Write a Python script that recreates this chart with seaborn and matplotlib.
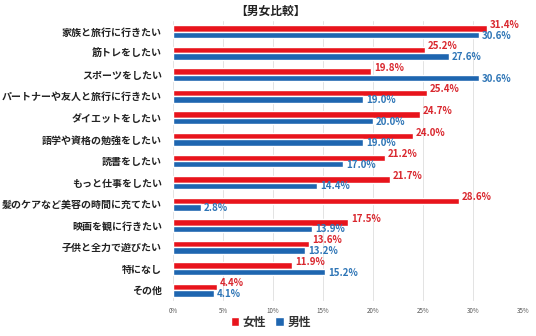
import matplotlib
matplotlib.use("Agg")
import matplotlib.pyplot as plt
import seaborn as sns
import pandas as pd
from matplotlib.patches import Patch

categories = [
    "家族と旅行に行きたい", "筋トレをしたい", "スポーツをしたい",
    "パートナーや友人と旅行に行きたい", "ダイエットをしたい",
    "語学や資格の勉強をしたい", "読書をしたい", "もっと仕事をしたい",
    "髪のケアなど美容の時間に充てたい", "映画を観に行きたい",
    "子供と全力で遊びたい", "特になし", "その他",
]
female = [31.4, 25.2, 19.8, 25.4, 24.7, 24.0, 21.2, 21.7, 28.6, 17.5, 13.6, 11.9, 4.4]
male = [30.6, 27.6, 30.6, 19.0, 20.0, 19.0, 17.0, 14.4, 2.8, 13.9, 13.2, 15.2, 4.1]
series = ["女性", "男性"]
x_ticks = [0, 5, 10, 15, 20, 25, 30, 35]

bar_colors = {"女性": "#E8141C", "男性": "#1E66B0"}
text_colors = {"女性": "#D9272E", "男性": "#2E75B6"}

df = pd.DataFrame({
    "項目": categories * 2,
    "割合": female + male,
    "性別": [series[0]] * len(categories) + [series[1]] * len(categories),
})

sns.set_theme(style="white")
plt.rcParams["font.family"] = ["Noto Sans CJK JP", "DejaVu Sans"]

fig = plt.figure(figsize=(5.36, 3.36), dpi=100)
ax = fig.add_axes([173 / 536, 1 - 301 / 336, 350 / 536, 280 / 336])

sns.barplot(data=df, y="項目", x="割合", hue="性別", order=categories,
            hue_order=series, palette=bar_colors, orient="h", width=0.6,
            saturation=1, legend=False, ax=ax)

ax.set_xlim(0, 35)
ax.set_xticks(x_ticks)
ax.set_xticklabels([f"{t}%" for t in x_ticks], fontsize=4.5, color="#555555")
ax.tick_params(axis="x", length=0, pad=4)
ax.tick_params(axis="y", length=0, pad=8)
for lbl in ax.get_yticklabels():
    lbl.set_fontsize(7.2)
    lbl.set_fontweight("bold")
    lbl.set_color("#222222")
ax.set_xlabel("")
ax.set_ylabel("")
ax.grid(axis="x", color="#E3E3E3", linewidth=0.7)
ax.set_axisbelow(True)
for s in ax.spines.values():
    s.set_visible(False)

# value labels to the right of each bar
for container, name in zip(ax.containers, series):
    dy = -0.17 if name == "女性" else 0.03
    for bar, val in zip(container, container.datavalues):
        cy = bar.get_y() + bar.get_height() / 2 + dy
        ax.text(val + 0.3, cy, f"{val:.1f}%", color=text_colors[name],
                fontsize=7, fontweight="bold", va="center", ha="left")

fig.text(0.505, 1 - 11 / 336, "【男女比較】", ha="center", va="center",
         fontsize=8.5, fontweight="bold", color="#222222")

handles = [Patch(facecolor=bar_colors[s], label=s) for s in series]
leg = fig.legend(handles=handles, loc="center", bbox_to_anchor=(0.505, 1 - 322 / 336),
                 ncol=2, frameon=False, fontsize=8.5, handlelength=0.7,
                 handleheight=0.7, handletextpad=0.3, columnspacing=0.8)
for t in leg.get_texts():
    t.set_fontweight("bold")
    t.set_color("#333333")

fig.savefig("out.png", dpi=100)
